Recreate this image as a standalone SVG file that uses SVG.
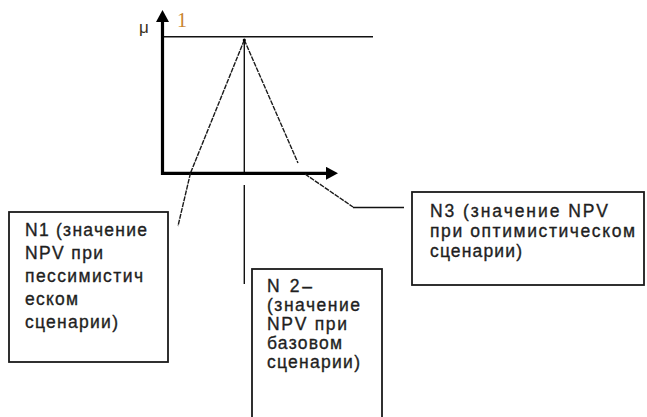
<svg xmlns="http://www.w3.org/2000/svg" width="647" height="417" viewBox="0 0 647 417">
  <defs>
    <marker id="arr" viewBox="0 0 12 13" refX="2" refY="6.5" markerWidth="12" markerHeight="13" orient="auto" markerUnits="userSpaceOnUse">
      <path d="M0,0 L12,6.5 L0,13 Z" fill="#000"/>
    </marker>
    <style>
      .axis { stroke: #000; stroke-width: 3.2; fill: none; }
      .thin { stroke: #111; stroke-width: 1.4; fill: none; }
      .dash { stroke: #1a1a1a; stroke-width: 1.4; fill: none; stroke-dasharray: 5 1; }
      .box { fill: #fff; stroke: #1a1a1a; stroke-width: 1.8; }
      .lbl { font-family: "Liberation Sans", Arial, sans-serif; font-size: 17.5px; fill: #1f1f1f; stroke: #1f1f1f; stroke-width: 0.35px; }
    </style>
  </defs>
  <rect x="0" y="0" width="647" height="417" fill="#fff"/>

  <g id="chart">
    <line class="thin" x1="163" y1="36.8" x2="373" y2="36.8"/>
    <line class="thin" x1="244.3" y1="40" x2="244.3" y2="173"/>
    <polyline class="dash" points="244.3,40 190.5,173"/>
    <polyline class="dash" points="244.3,40 298,163"/>
    <line class="axis" x1="162.5" y1="175" x2="162.5" y2="20" marker-end="url(#arr)"/>
    <line class="axis" x1="161" y1="173.3" x2="328" y2="173.3" marker-end="url(#arr)"/>
    <circle cx="244.3" cy="40" r="1.6" fill="#000"/>
    <text x="139" y="33" style="font-family:'Liberation Sans',Arial,sans-serif;font-size:17px;fill:#3a3020">μ</text>
    <text x="177" y="27" style="font-family:'Liberation Serif','Times New Roman',serif;font-size:20px;fill:#c9852e">1</text>
  </g>

  <g id="connectors">
    <polyline class="dash" points="190.5,173 178,226"/>
    <line class="thin" x1="244.3" y1="185" x2="244.3" y2="284"/>
    <polyline class="dash" points="305,174 353,207"/>
    <line class="thin" x1="353" y1="207.5" x2="404" y2="207.5"/>
  </g>

  <g id="N1">
    <rect class="box" x="9" y="212" width="159" height="150"/>
    <text class="lbl" x="25" y="236" textLength="122" lengthAdjust="spacing">N1 (значение</text>
    <text class="lbl" x="25" y="259" textLength="78" lengthAdjust="spacing">NPV при</text>
    <text class="lbl" x="25" y="282" textLength="118" lengthAdjust="spacing">пессимистич</text>
    <text class="lbl" x="25" y="305" textLength="53" lengthAdjust="spacing">еском</text>
    <text class="lbl" x="25" y="328" textLength="93" lengthAdjust="spacing">сценарии)</text>
  </g>

  <g id="N2">
    <rect class="box" x="252" y="269" width="130" height="160"/>
    <text class="lbl" x="267" y="292" textLength="45" lengthAdjust="spacing">N 2–</text>
    <text class="lbl" x="267" y="311" textLength="93" lengthAdjust="spacing">(значение</text>
    <text class="lbl" x="267" y="330" textLength="80" lengthAdjust="spacing">NPV при</text>
    <text class="lbl" x="267" y="349" textLength="75" lengthAdjust="spacing">базовом</text>
    <text class="lbl" x="267" y="368" textLength="93" lengthAdjust="spacing">сценарии)</text>
  </g>

  <g id="N3">
    <rect class="box" x="412" y="192" width="232" height="93"/>
    <text class="lbl" x="430" y="217" textLength="178" lengthAdjust="spacing">N3 (значение NPV</text>
    <text class="lbl" x="430" y="237" textLength="205" lengthAdjust="spacing">при оптимистическом</text>
    <text class="lbl" x="430" y="257" textLength="92" lengthAdjust="spacing">сценарии)</text>
  </g>
</svg>
